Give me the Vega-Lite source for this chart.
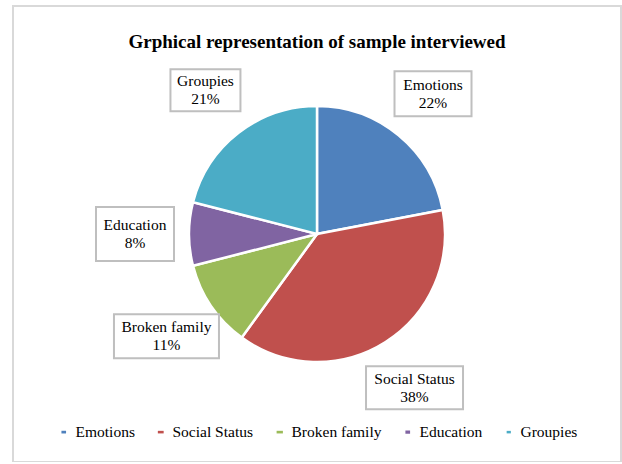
{
  "$schema": "https://vega.github.io/schema/vega-lite/v6.json",
  "autosize": "none",
  "padding": {"left": 13, "top": 6, "right": 1, "bottom": 0},
  "width": 608,
  "height": 456,
  "background": "white",
  "title": {
    "text": "Grphical representation of sample interviewed",
    "font": "Liberation Serif",
    "fontSize": 19,
    "fontWeight": "bold",
    "color": "black",
    "anchor": "middle",
    "offset": -46
  },
  "config": {
    "view": {"stroke": "#d9d9d9", "strokeWidth": 2},
    "legend": {"layout": {"bottom": {"anchor": "middle"}}}
  },
  "data": {
    "values": [
      {"category": "Emotions", "value": 22, "idx": 1},
      {"category": "Social Status", "value": 38, "idx": 2},
      {"category": "Broken family", "value": 11, "idx": 3},
      {"category": "Education", "value": 8, "idx": 4},
      {"category": "Groupies", "value": 21, "idx": 5}
    ]
  },
  "layer": [
    {
      "mark": {"type": "arc", "outerRadius": 128, "stroke": "white", "strokeWidth": 2.5},
      "encoding": {
        "theta": {"field": "value", "type": "quantitative", "stack": true},
        "order": {"field": "idx", "type": "quantitative"},
        "color": {
          "field": "category",
          "type": "nominal",
          "scale": {
            "domain": ["Emotions", "Social Status", "Broken family", "Education", "Groupies"],
            "range": ["#4F81BD", "#C0504D", "#9BBB59", "#8064A2", "#4BACC6"]
          },
          "legend": {
            "orient": "bottom",
            "direction": "horizontal",
            "title": null,
            "offset": -38,
            "symbolType": "square",
            "symbolSize": 36,
            "symbolStrokeWidth": 0,
            "labelFont": "Times New Roman",
            "labelFontSize": 15.5,
            "labelFontWeight": "normal",
            "labelColor": "black",
            "labelOffset": 4,
            "columnPadding": 18,
            "labelLimit": 200
          }
        }
      }
    },
    {
      "transform": [
        {"joinaggregate": [{"op": "sum", "field": "value", "as": "total"}]},
        {"window": [{"op": "sum", "field": "value", "as": "cum"}], "sort": [{"field": "idx"}], "frame": [null, 0]},
        {"calculate": "(datum.cum - datum.value / 2) / datum.total * 2 * PI", "as": "mid"},
        {"calculate": "width / 2 + 182 * sin(datum.mid)", "as": "lx"},
        {"calculate": "height / 2 - 182 * cos(datum.mid)", "as": "ly"}
      ],
      "mark": {"type": "point", "filled": false, "fill": "white", "fillOpacity": 1, "stroke": "#bfbfbf", "strokeWidth": 2, "opacity": 1, "size": 10000},
      "encoding": {
        "x": {"field": "lx", "type": "quantitative", "scale": null},
        "y": {"field": "ly", "type": "quantitative", "scale": null},
        "shape": {
          "field": "category",
          "type": "nominal",
          "legend": null,
          "scale": {
            "domain": ["Emotions", "Social Status", "Broken family", "Education", "Groupies"],
            "range": [
              "M-0.77,-0.45H0.77V0.45H-0.77Z",
              "M-0.97,-0.43H0.97V0.43H-0.97Z",
              "M-1.05,-0.44H1.05V0.44H-1.05Z",
              "M-0.78,-0.54H0.78V0.54H-0.78Z",
              "M-0.70,-0.42H0.70V0.42H-0.70Z"
            ]
          }
        }
      }
    },
    {
      "transform": [
        {"joinaggregate": [{"op": "sum", "field": "value", "as": "total"}]},
        {"window": [{"op": "sum", "field": "value", "as": "cum"}], "sort": [{"field": "idx"}], "frame": [null, 0]},
        {"calculate": "(datum.cum - datum.value / 2) / datum.total * 2 * PI", "as": "mid"},
        {"calculate": "width / 2 + 182 * sin(datum.mid)", "as": "lx"},
        {"calculate": "height / 2 - 182 * cos(datum.mid)", "as": "ly"},
        {"calculate": "datum.category + '\\n' + datum.value + '%'", "as": "label"}
      ],
      "mark": {"type": "text", "font": "Times New Roman", "fontWeight": "normal", "fontSize": 15.5, "color": "black", "align": "center", "baseline": "middle", "lineBreak": "\n", "lineHeight": 18, "dy": -9},
      "encoding": {
        "x": {"field": "lx", "type": "quantitative", "scale": null},
        "y": {"field": "ly", "type": "quantitative", "scale": null},
        "text": {"field": "label"}
      }
    }
  ]
}
